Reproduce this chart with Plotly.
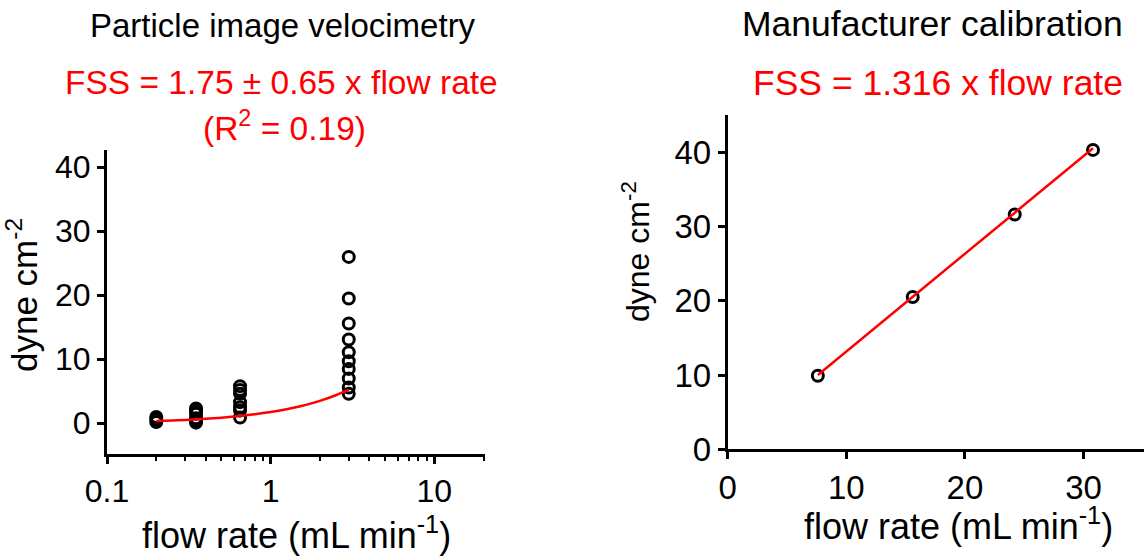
import plotly.graph_objects as go
import numpy as np

W, H = 1144, 557

# ---- Left panel data (Particle image velocimetry) ----
piv_flow = [0.2, 0.35, 0.65, 3.0]
piv_fss = [
    [1.0, 0.6, 0.2],
    [2.3, 1.9, 1.5, 0.8, 0.4, 0.1],
    [5.8, 5.2, 4.6, 3.3, 2.5, 2.0, 0.9],
    [26.0, 19.5, 15.6, 13.1, 11.1, 9.7, 8.5, 7.0, 5.6, 4.6],
]
piv_slope = 1.75
piv_fit_x = [0.2, 0.25, 0.3, 0.4, 0.5, 0.65, 0.8, 1.0, 1.25, 1.5, 2.0, 2.5, 3.0]

# ---- Right panel data (Manufacturer calibration) ----
man_flow = [7.6, 15.6, 24.2, 30.8]
man_fss = [9.9, 20.5, 31.6, 40.3]
man_slope = 1.316

left_yticks = [0, 10, 20, 30, 40]
left_xticks = [0.1, 1, 10]
left_xticklabels = ["0.1", "1", "10"]
right_xticks = [0, 10, 20, 30]
right_yticks = [0, 10, 20, 30, 40]

FONT = "Liberation Sans, Arial, sans-serif"
RED = "#ff0000"

px_x = []
px_y = []
for fxv, vals in zip(piv_flow, piv_fss):
    for v in vals:
        px_x.append(fxv)
        px_y.append(v)

fig = go.Figure()
marker = dict(symbol="circle-open", size=11, color="black", line=dict(width=3, color="black"))

fig.add_trace(go.Scatter(x=px_x, y=px_y, mode="markers", marker=marker,
                         xaxis="x", yaxis="y", showlegend=False))
fig.add_trace(go.Scatter(x=piv_fit_x, y=[piv_slope * v for v in piv_fit_x], mode="lines",
                         line=dict(color=RED, width=2.5, shape="spline"),
                         xaxis="x", yaxis="y", showlegend=False))

fig.add_trace(go.Scatter(x=man_flow, y=man_fss, mode="markers", marker=marker,
                         xaxis="x2", yaxis="y2", showlegend=False))
fig.add_trace(go.Scatter(x=[man_flow[0], man_flow[-1]],
                         y=[man_slope * man_flow[0], man_slope * man_flow[-1]], mode="lines",
                         line=dict(color=RED, width=2.5),
                         xaxis="x2", yaxis="y2", showlegend=False))

def fx(px):
    return px / W

def fy(py):
    return 1 - py / H

def axis_style(tsize):
    return dict(showline=True, linecolor="black", linewidth=3, ticks="outside",
                ticklen=7, tickwidth=3, tickcolor="black", showgrid=False, zeroline=False,
                tickfont=dict(family=FONT, size=tsize, color="black"), mirror=False,
                automargin=False)

fig.update_layout(
    width=W, height=H,
    margin=dict(l=0, r=0, t=0, b=0),
    paper_bgcolor="white", plot_bgcolor="white",
    font=dict(family=FONT, color="black"),
    xaxis=dict(**axis_style(32), type="log", range=[-1, np.log10(20.4)],
               domain=[fx(107), fx(485)], anchor="y",
               tickvals=left_xticks, ticktext=left_xticklabels,
               minor=dict(ticks="outside", ticklen=4, tickwidth=2, tickcolor="black",
                          tickvals=[0.2, 0.3, 0.4, 0.5, 0.6, 0.7, 0.8, 0.9,
                                    2, 3, 4, 5, 6, 7, 8, 9, 20])),
    yaxis=dict(**axis_style(32), range=[-4.8, 42.7], domain=[fy(454), fy(150)], anchor="x",
               tickvals=left_yticks),
    xaxis2=dict(**axis_style(33), range=[0, 35.1], domain=[fx(727.7), 1.0], anchor="y2",
                tickvals=right_xticks),
    yaxis2=dict(**axis_style(33), range=[0, 45], domain=[fy(449.3), fy(115)], anchor="x2",
                tickvals=right_yticks),
)

def ann(text, x, y, color="black", size=33, angle=0):
    fig.add_annotation(text=text, x=fx(x), y=fy(y), xref="paper", yref="paper",
                       showarrow=False, xanchor="center", yanchor="middle",
                       textangle=angle, font=dict(family=FONT, size=size, color=color))

ann("Particle image velocimetry", 283, 25)
ann("FSS = 1.75 ± 0.65 x flow rate", 281, 82, color=RED, size=33.5)
ann("(R<sup>2</sup> = 0.19)", 284, 126, color=RED, size=33.5)
ann("Manufacturer calibration", 932, 24, size=35.5)
ann("FSS = 1.316 x flow rate", 938, 83, color=RED, size=35.5)
ann("dyne cm<sup>-2</sup>", 22, 295, angle=-90, size=35)
ann("flow rate (mL min<sup>-1</sup>)", 296, 533, size=36)
ann("dyne cm<sup>-2</sup>", 636, 252, angle=-90, size=32)
ann("flow rate (mL min<sup>-1</sup>)", 958, 524, size=36)

fig.write_html("out.html", config={"displayModeBar": False},
               post_script="document.body.style.margin='0';document.body.style.overflow='hidden';")
